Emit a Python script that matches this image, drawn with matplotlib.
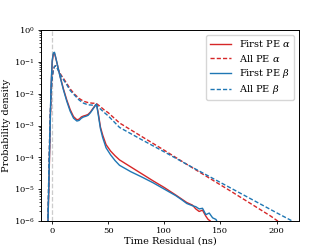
import matplotlib
matplotlib.use("Agg")
import matplotlib.pyplot as plt
import numpy as np

plt.rcParams['font.family'] = 'DejaVu Serif'
plt.rcParams['mathtext.fontset'] = 'dejavuserif'

# time residual (ns) and log10(probability density)
t_first_a = [-4, -3, -2, -1, 0, 1, 2, 3, 5, 7, 10, 13, 16, 19, 22, 24, 26, 28, 30, 32, 34, 36, 38, 39.5,
             41, 43, 45, 48, 52, 56, 60, 70, 80, 90, 100, 110, 115, 120, 125, 128, 131, 134, 137, 139, 141, 143]
lg_first_a = [-6.3, -5.0, -3.3, -1.8, -1.0, -0.76, -0.73, -0.86, -1.15, -1.45, -1.85, -2.2, -2.5, -2.72, -2.82,
              -2.8, -2.73, -2.70, -2.68, -2.65, -2.58, -2.48, -2.38, -2.33,
              -2.6, -3.05, -3.3, -3.6, -3.8, -3.95, -4.08, -4.3, -4.52, -4.74, -4.95, -5.18, -5.3, -5.42, -5.5,
              -5.62, -5.7, -5.66, -5.85, -5.95, -6.0, -6.1]

t_first_b = [-4, -3, -2, -1, 0, 1, 2, 3, 5, 7, 10, 13, 16, 19, 22, 24, 26, 28, 30, 32, 34, 36, 38, 39.5,
             41, 43, 45, 48, 52, 56, 60, 70, 80, 90, 100, 110, 115, 120, 125, 128, 131, 134, 137, 140, 143, 146, 148]
lg_first_b = [-6.3, -4.8, -3.2, -1.7, -0.95, -0.72, -0.7, -0.84, -1.15, -1.47, -1.88, -2.24, -2.55, -2.77,
              -2.86, -2.84, -2.77, -2.73, -2.71, -2.68, -2.6, -2.5, -2.4, -2.33,
              -2.65, -3.1, -3.38, -3.7, -3.92, -4.1, -4.25, -4.45, -4.62, -4.8, -5.0, -5.2, -5.32, -5.45, -5.52,
              -5.55, -5.62, -5.6, -5.8, -5.75, -5.9, -5.95, -6.1]

t_all_a = [-4, -3, -2, -1, 0, 1, 2, 3, 4, 6, 8, 10, 13, 16, 20, 24, 28, 32, 36, 39, 42, 46, 50, 60,
           80, 100, 120, 140, 160, 180, 195, 203]
lg_all_a = [-6.5, -4.5, -3.0, -2.0, -1.5, -1.25, -1.15, -1.12, -1.15, -1.3, -1.42, -1.52, -1.68, -1.85,
            -2.02, -2.15, -2.24, -2.28, -2.3, -2.3, -2.38, -2.5, -2.6, -2.92,
            -3.35, -3.78, -4.22, -4.65, -5.08, -5.52, -5.85, -6.05]

t_all_b = [-4, -3, -2, -1, 0, 1, 2, 3, 4, 6, 8, 10, 13, 16, 20, 24, 28, 32, 36, 39, 42, 46, 50, 60,
           80, 100, 120, 140, 160, 180, 200, 214, 216]
lg_all_b = [-6.5, -4.4, -2.9, -1.95, -1.5, -1.25, -1.15, -1.12, -1.16, -1.32, -1.45, -1.56, -1.72, -1.9,
            -2.05, -2.2, -2.3, -2.35, -2.36, -2.35, -2.45, -2.58, -2.7, -3.06,
            -3.45, -3.83, -4.22, -4.6, -4.98, -5.36, -5.74, -6.0, -6.05]

red = '#d62728'
blue = '#1f77b4'

fig = plt.figure(figsize=(3.32, 2.49), dpi=100)
ax = fig.add_axes([0.1235, 0.1124, 0.777, 0.7671])

ax.axvline(0, color='#cccccc', ls='--', lw=0.9, zorder=0)
ax.plot(t_first_a, 10 ** np.array(lg_first_a), color=red, lw=1.0, label=r'First PE $\alpha$')
ax.plot(t_all_a, 10 ** np.array(lg_all_a), color=red, lw=1.0, ls='--', dashes=(3, 1.5), label=r'All PE $\alpha$')
ax.plot(t_first_b, 10 ** np.array(lg_first_b), color=blue, lw=1.0, label=r'First PE $\beta$')
ax.plot(t_all_b, 10 ** np.array(lg_all_b), color=blue, lw=1.0, ls='--', dashes=(3, 1.5), label=r'All PE $\beta$')

ax.set_yscale('log')
ax.set_ylim(1e-6, 1)
ax.set_xlim(-10, 220)
ax.set_xticks([0, 50, 100, 150, 200])
ax.tick_params(labelsize=6, length=2.5, width=0.6, pad=2)
ax.tick_params(which='minor', length=1.5, width=0.5)
for s in ax.spines.values():
    s.set_linewidth(0.7)
ax.set_xlabel('Time Residual (ns)', fontsize=7, labelpad=1)
ax.set_ylabel('Probability density', fontsize=7, labelpad=2)
ax.legend(loc='upper right', fontsize=7, handlelength=2.2, borderaxespad=0.5,
          labelspacing=0.35, borderpad=0.35)

fig.savefig('out.png', dpi=100)
